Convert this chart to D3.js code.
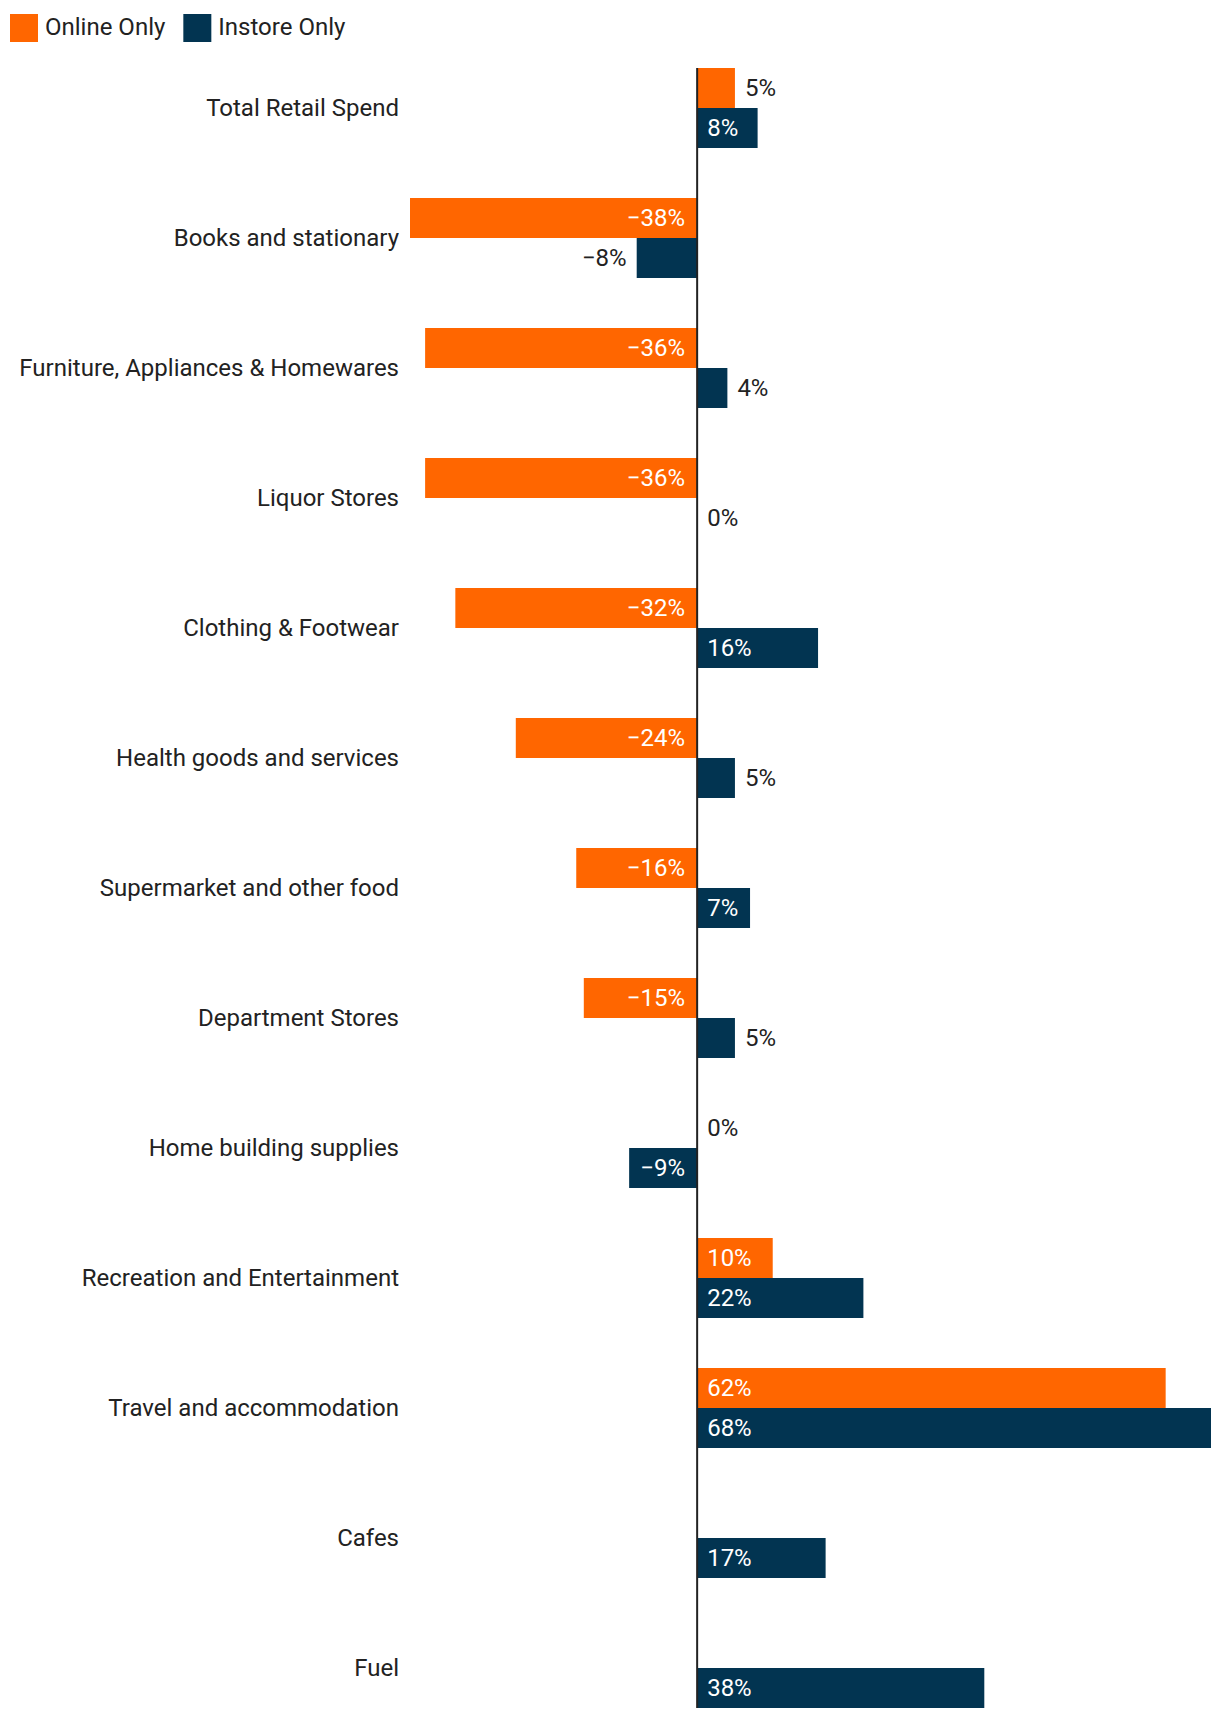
<!DOCTYPE html>
<html>
<head>
<meta charset="utf-8">
<script src="https://cdn.jsdelivr.net/npm/d3@7"></script>
<style>
  html, body { margin: 0; padding: 0; background: #fff; }
  svg { display: block; font-family: Roboto, "Noto Sans", sans-serif; }
</style>
</head>
<body>
<svg id="chart" width="1220" height="1720"></svg>
<script>
const categories = [
  "Total Retail Spend",
  "Books and stationary",
  "Furniture, Appliances & Homewares",
  "Liquor Stores",
  "Clothing & Footwear",
  "Health goods and services",
  "Supermarket and other food",
  "Department Stores",
  "Home building supplies",
  "Recreation and Entertainment",
  "Travel and accommodation",
  "Cafes",
  "Fuel"
];
const onlineOnly  = [5, -38, -36, -36, -32, -24, -16, -15, 0, 10, 62, null, null];
const instoreOnly = [8, -8, 4, 0, 16, 5, 7, 5, -9, 22, 68, 17, 38];
const seriesNames = ["Online Only", "Instore Only"];
const seriesColors = ["#ff6600", "#023451"];

const svg = d3.select("#chart");
const textColor = "#222";
const fontSize = 24;

const values = onlineOnly.concat(instoreOnly).filter(v => v != null);
const x = d3.scaleLinear()
  .domain([d3.min(values), d3.max(values)])
  .range([410, 1211]);

const y = d3.scaleBand()
  .domain(categories)
  .range([68, 1708])
  .paddingInner(50 / 130)
  .paddingOuter(0);

const sub = d3.scaleBand()
  .domain(seriesNames)
  .range([0, y.bandwidth()]);

const color = d3.scaleOrdinal().domain(seriesNames).range(seriesColors);

// legend
const legend = svg.append("g");
let lx = 10;
seriesNames.forEach((name) => {
  legend.append("rect").attr("x", lx).attr("y", 14).attr("width", 28).attr("height", 28)
    .attr("fill", color(name));
  const t = legend.append("text").attr("x", lx + 35).attr("y", 27).attr("dy", "0.35em")
    .attr("font-size", fontSize).attr("fill", textColor).text(name);
  lx += 35 + t.node().getComputedTextLength() + 18;
});

// category labels
svg.append("g").selectAll("text").data(categories).join("text")
  .attr("x", 399)
  .attr("y", d => y(d) + y.bandwidth() / 2)
  .attr("dy", "0.35em")
  .attr("text-anchor", "end")
  .attr("font-size", fontSize)
  .attr("fill", textColor)
  .text(d => d);

// bars
const rows = [];
categories.forEach((c, i) => {
  [onlineOnly[i], instoreOnly[i]].forEach((v, j) => {
    if (v != null) rows.push({ cat: c, series: seriesNames[j], value: v });
  });
});

const g = svg.append("g");
g.selectAll("rect").data(rows).join("rect")
  .attr("x", d => Math.min(x(0), x(d.value)))
  .attr("y", d => y(d.cat) + sub(d.series))
  .attr("width", d => Math.abs(x(d.value) - x(0)))
  .attr("height", sub.bandwidth())
  .attr("fill", d => color(d.series));

const fmt = v => (v < 0 ? "\u2212" : "") + Math.abs(v) + "%";
const pad = 10;
const labels = g.selectAll("text").data(rows).join("text")
  .attr("y", d => y(d.cat) + sub(d.series) + sub.bandwidth() / 2)
  .attr("dy", "0.35em")
  .attr("font-size", fontSize)
  .text(d => fmt(d.value));

labels.each(function(d) {
  const w = this.getComputedTextLength();
  const barW = Math.abs(x(d.value) - x(0));
  const inside = w + 2 * pad <= barW;
  const el = d3.select(this);
  if (d.value >= 0) {
    el.attr("x", inside ? x(0) + pad : x(d.value) + pad).attr("text-anchor", "start");
  } else {
    el.attr("x", inside ? x(0) - pad - 2 : x(d.value) - pad).attr("text-anchor", "end");
  }
  el.attr("fill", inside ? "#fff" : textColor);
});

// zero line
svg.append("line")
  .attr("x1", x(0)).attr("x2", x(0))
  .attr("y1", y.range()[0]).attr("y2", y.range()[1])
  .attr("stroke", "#222").attr("stroke-width", 2);
</script>
</body>
</html>
